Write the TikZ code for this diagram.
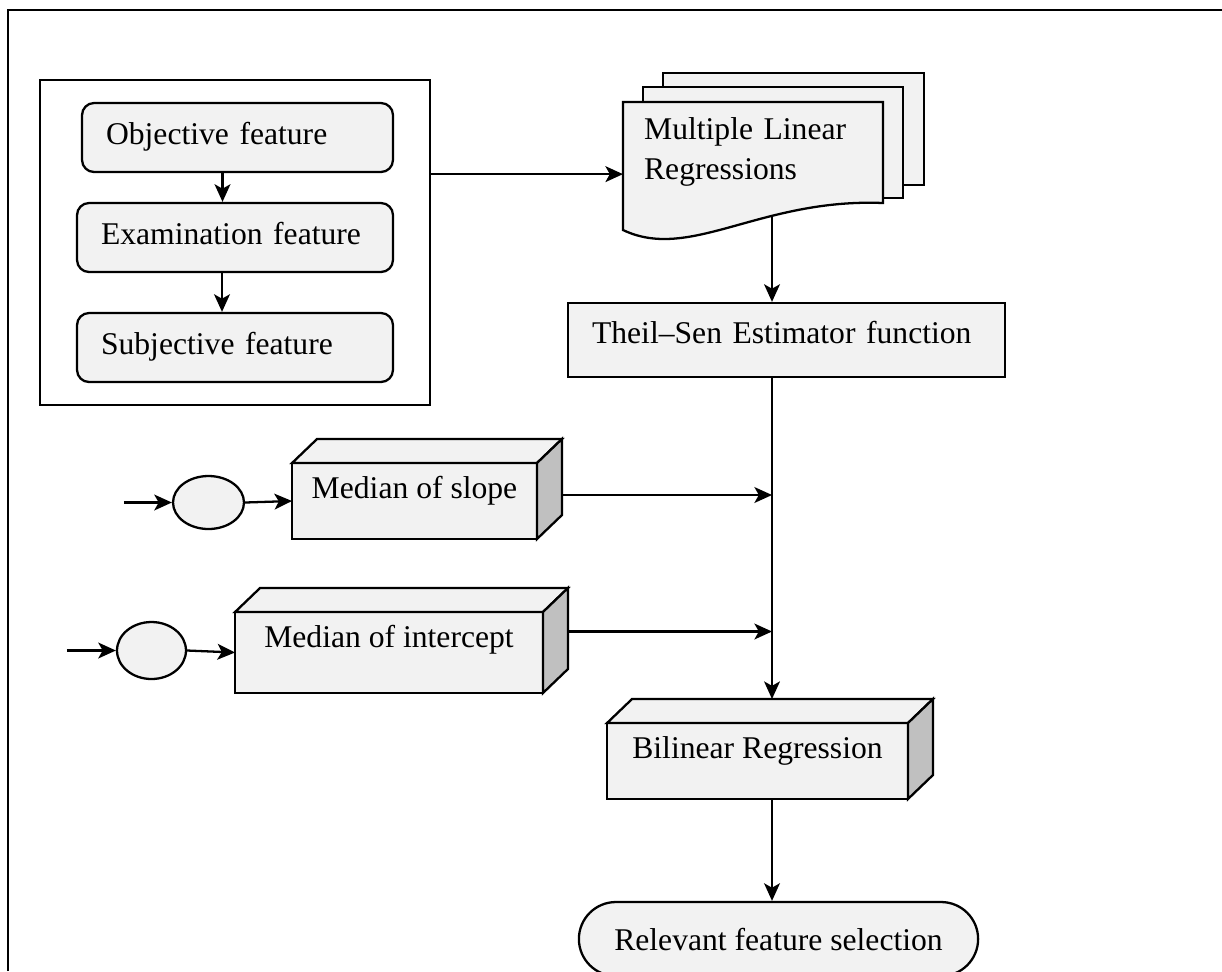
\documentclass[tikz,border=0pt]{standalone}
\usepackage{fontspec}
\setmainfont{Liberation Serif}
\usepackage{tikz}
\usetikzlibrary{arrows.meta}
\usetikzlibrary{positioning}
\usetikzlibrary{fit}
\usetikzlibrary{backgrounds}
\usetikzlibrary{shapes.geometric}
\usetikzlibrary{shapes.misc}
\definecolor{boxfill}{HTML}{F2F2F2}
\definecolor{sidefill}{HTML}{C0C0C0}

\begin{document}
\begin{tikzpicture}[x=0.02cm, y=-0.02cm, line width=1.3pt,
    font=\fontsize{18}{22.8}\selectfont,
    arr/.style={-{Stealth[length=10pt,width=9pt,inset=2.5pt]}},
    feat/.style={draw, fill=boxfill, rounded corners=0.24cm, align=left,
      inner xsep=0.48cm, inner ysep=0pt, text height=0.82cm, text depth=0.56cm},
    cube/.style={draw, fill=boxfill, outer sep=0pt, inner ysep=0pt, text height=0.7cm},
    face/.style={draw, fill=boxfill, line width=1.3pt},
    side/.style={draw, fill=sidefill},
    blob/.style={draw, fill=boxfill, ellipse, inner sep=0pt}]
  \useasboundingbox (0,0) rectangle (1222,971);
  \draw[line width=1.6pt] (8,971) -- (8,10) -- (1222,10);

  % feature group
  \node (obj) [feat, text width=5.26cm] at (237.5,137.5) {Objective feature};
  \node (exam) [feat, text width=5.36cm] at (235,237.5) {Examination feature};
  \node (subj) [feat, text width=5.36cm] at (235,347.5) {Subjective feature};
  \node (grp) [draw, inner xsep=0.72cm, inner ysep=0.44cm, fit=(obj)(exam)(subj)] {};

  \draw[arr] ([xshift=-0.3cm]obj.south) -- ([xshift=-0.3cm]obj.south |- exam.north);
  \draw[arr] ([xshift=-0.26cm]exam.south) -- ([xshift=-0.26cm]exam.south |- subj.north);

  % regressions
  \node (mlr) [anchor=north west, text width=4.4cm, align=left, inner xsep=0.4cm,
    inner ysep=0pt, text height=0.72cm, text depth=2.12cm] at (623,102)
    {Multiple Linear\\Regressions};
  \node (theil) [draw, fill=boxfill, text width=7.78cm, align=left, inner xsep=0.48cm,
    inner ysep=0pt, text height=0.8cm, text depth=0.68cm] at (786.5,340)
    {Theil--Sen Estimator function};
  \coordinate (spine) at (772,0);

  % medians and bilinear
  \node (slope) [cube, minimum width=4.9cm, text depth=0.82cm] at (414.5,501) {Median of slope};
  \node (icpt) [cube, minimum width=6.16cm, text depth=0.92cm] at (389,652.5) {Median of intercept};
  \node (bil) [cube, minimum width=6.02cm, text depth=0.82cm] at (757.5,761) {Bilinear Regression};

  \draw[face] (slope.north west) -- ++(25,-24) -- ([shift={(25,-24)}]slope.north east) -- (slope.north east) -- cycle;
  \draw[side] (slope.north east) -- ++(25,-24) -- ([shift={(25,-24)}]slope.south east) -- (slope.south east) -- cycle;
  \draw[face] (icpt.north west) -- ++(25,-24) -- ([shift={(25,-24)}]icpt.north east) -- (icpt.north east) -- cycle;
  \draw[side] (icpt.north east) -- ++(25,-24) -- ([shift={(25,-24)}]icpt.south east) -- (icpt.south east) -- cycle;
  \draw[face] (bil.north west) -- ++(25,-24) -- ([shift={(25,-24)}]bil.north east) -- (bil.north east) -- cycle;
  \draw[side] (bil.north east) -- ++(25,-24) -- ([shift={(25,-24)}]bil.south east) -- (bil.south east) -- cycle;

  \node (sc) [blob, minimum width=1.42cm, minimum height=1.06cm] at (208.5,502.5) {};
  \node (ic) [blob, minimum width=1.38cm, minimum height=1.14cm] at (151.5,650.5) {};
  \coordinate [left=0.96cm of sc.west] (sin);
  \coordinate [left=0.98cm of ic.west] (iin);

  \node (rel) [draw, fill=boxfill, rounded rectangle, minimum width=8.22cm,
    minimum height=1.48cm] at (778.5,939) {Relevant feature selection};

  % connectors
  \draw[arr] (grp.east |- mlr.west) -- (mlr.west);
  \draw[arr] (sin) -- (sc);
  \draw[arr] (sc.east) -- (slope.west);
  \draw[arr] (iin) -- (ic);
  \draw[arr] (ic.east) -- (icpt.west);
  \coordinate (sout) at ([shift={(25,-6)}]slope.east);
  \coordinate (iout) at ([shift={(25,-21)}]icpt.east);
  \draw[arr] (sout) -- (sout -| spine);
  \draw[arr] (iout) -- (iout -| spine);
  \coordinate (btop) at ([yshift=0.48cm]bil.north);
  \draw[arr] (spine |- theil.south) -- (spine |- btop);
  \draw[arr] (spine |- bil.south) -- (spine |- rel.north);

  \begin{scope}[on background layer]
    \draw[arr, line width=1.3pt] (spine |- mlr.center) -- (spine |- theil.north);
    \draw[face] (663,73) rectangle (924,185);
    \draw[face] (643,87) rectangle (903,198);
    \draw[face] (623,102) -- (883,102) -- (883,203)
      .. controls (760,198) and (690,262) .. (623,230) -- cycle;
  \end{scope}
\end{tikzpicture}
\end{document}
